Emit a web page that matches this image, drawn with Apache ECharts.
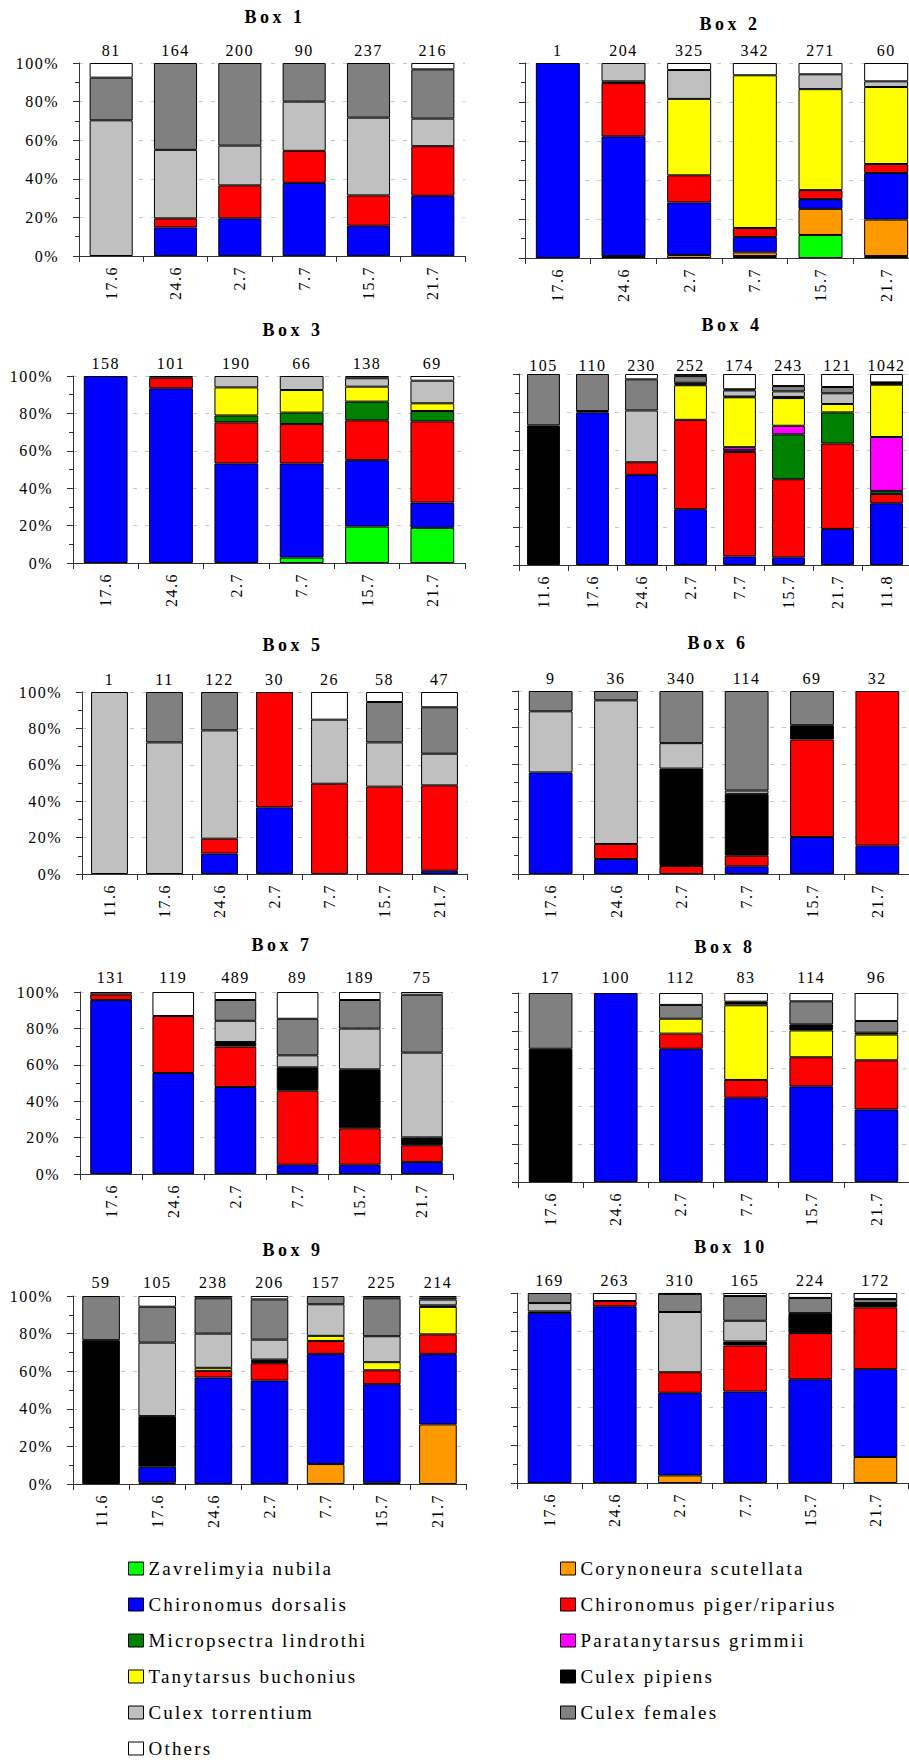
<!DOCTYPE html>
<html>
<head>
<meta charset="utf-8">
<script src="https://cdn.jsdelivr.net/npm/echarts@6/dist/echarts.min.js"></script>
<style>
html,body{margin:0;padding:0;background:#fff;}
#c{width:909px;height:1760px;}
#c svg text{letter-spacing:1.5px;}
#c svg text[style*="bold"]{letter-spacing:3.5px;}
#c svg text[style*="19px"]{letter-spacing:2.2px;}
</style>
</head>
<body>
<div id="c"></div>
<script>
const boxTitles = ['Box 1','Box 2','Box 3','Box 4','Box 5','Box 6','Box 7','Box 8','Box 9','Box 10'];

const boxDates = [
  ['17.6','24.6','2.7','7.7','15.7','21.7'],
  ['17.6','24.6','2.7','7.7','15.7','21.7'],
  ['17.6','24.6','2.7','7.7','15.7','21.7'],
  ['11.6','17.6','24.6','2.7','7.7','15.7','21.7','11.8'],
  ['11.6','17.6','24.6','2.7','7.7','15.7','21.7'],
  ['17.6','24.6','2.7','7.7','15.7','21.7'],
  ['17.6','24.6','2.7','7.7','15.7','21.7'],
  ['17.6','24.6','2.7','7.7','15.7','21.7'],
  ['11.6','17.6','24.6','2.7','7.7','15.7','21.7'],
  ['17.6','24.6','2.7','7.7','15.7','21.7']
];

const boxCounts = [
  [81,164,200,90,237,216],
  [1,204,325,342,271,60],
  [158,101,190,66,138,69],
  [105,110,230,252,174,243,121,1042],
  [1,11,122,30,26,58,47],
  [9,36,340,114,69,32],
  [131,119,489,89,189,75],
  [17,100,112,83,114,96],
  [59,105,238,206,157,225,214],
  [169,263,310,165,224,172]
];

// percentages per box (bottom of stack first species)
const zavrelimyia = [
  [0,0,0,0,0,0],
  [0,0,0,1.0,11.8,1.0],
  [0,0,0,2.9,19.5,18.8],
  [0,0,0,0,0,0,0,0],
  [0,0,0,0,0,0,0],
  [0,0,0,0,0,0],
  [0,0,0,0,0,0],
  [0,0,0,0,0,0],
  [0,0,0,0,0,0,0],
  [0,0,0,0,0,0]
];
const corynoneura = [
  [0,0,0,0,0,0],
  [0,1.0,1.5,1.9,13.4,18.7],
  [0,0,0,0,0,0],
  [0,0,0,0,0,0,0,0],
  [0,0,0,0,0,0,0],
  [0,0,0,0,0,0],
  [0,0,0,0,0,0],
  [0,0,0,0,0,0],
  [0,0.7,0,0,10.6,0.7,31.7],
  [0,0,4.0,0,0,13.7]
];
const dorsalis = [
  [0,14.8,19.5,37.9,15.7,31.2],
  [100,61.4,27.0,7.9,5.0,23.9],
  [100,93.4,53.2,50.3,35.5,13.5],
  [0,79.9,47.2,29.2,4.5,4.0,18.9,32.3],
  [0,0,11.2,36.6,0,0,1.8],
  [55.5,8.2,0,4.2,20.2,15.5],
  [95.6,55.5,47.8,5.1,5.1,6.6],
  [0,100,70.5,44.6,50.6,38.4],
  [0,8.5,56.6,55.0,58.6,52.4,37.5],
  [89.4,93.0,43.5,48.1,54.6,46.2]
];
const piger = [
  [0,4.7,17.1,16.6,15.7,25.7],
  [0,27.3,13.9,4.6,4.6,4.6],
  [0,5.7,22.0,21.1,21.3,43.4],
  [0,0.7,6.6,46.8,54.6,40.9,44.7,4.9],
  [0,0,8.2,63.4,49.6,48.0,46.9],
  [0,8.2,4.4,5.8,53.3,84.5],
  [3.1,31.3,22.2,40.7,20.0,9.2],
  [0,0,8.0,9.4,15.4,26.0],
  [0,0,3.6,9.2,6.9,7.4,10.4],
  [0,2.8,10.8,24.3,24.3,32.5]
];
const micropsectra = [
  [0,0,0,0,0,0],
  [0,0,0,0,0,0],
  [0,0.9,3.7,6.1,10.0,5.6],
  [0,0,0,0,1.0,23.5,16.3,1.6],
  [0,0,0,0,0,0,0],
  [0,0,0,0,0,0],
  [0,0,0,0,0,0],
  [0,0,0,0,0,0],
  [0,0,0,0.6,0,0,0],
  [0,0,0,0,0,0]
];
const paratanytarsus = [
  [0,0,0,0,0,0],
  [0,0,0,0,0,0],
  [0,0,0,0,0,0],
  [0,0,0,0,1.6,4.5,0,28.2],
  [0,0,0,0,0,0,0],
  [0,0,0,0,0,0],
  [0,0,0,0,0,0],
  [0,0,0,0,0,0],
  [0,0,0,0,0,0,0],
  [0,0,0,0,0,0]
];
const tanytarsus = [
  [0,0,0,0,0,0],
  [0,0.9,39.2,78.3,51.8,39.5],
  [0,0,15.0,12.1,8.0,4.1],
  [0,0,0,18.1,26.1,14.5,4.4,27.4],
  [0,0,0,0,0,0,0],
  [0,0,0,0,0,0],
  [0,0,0,0,0,0],
  [0,0,7.9,39.5,14.2,13.6],
  [0,0,1.6,0.7,2.7,4.3,14.6],
  [0,0,0,0,0,0]
];
const pipiens = [
  [0,0,0,0,0,0],
  [0,0,0,0,0,0],
  [0,0,0,0,0,0],
  [73.1,0,0,0.5,0.4,0.6,0,0.6],
  [0,0,0,0,0,0,0],
  [0,0,53.2,33.8,7.8,0],
  [0,0,2.5,12.8,32.4,4.3],
  [70.5,0,0,0,3.2,1.0],
  [76.5,26.9,0,0.7,0,0,0.8],
  [0.9,0,0,2.1,10.5,2.3]
];
const torrentium = [
  [70.3,35.5,20.6,25.5,40.3,14.3],
  [0,9.4,14.8,0,7.6,2.9],
  [0,0,6.1,7.5,4.5,12.1],
  [0,0,27.1,0.8,3.2,2.9,5.6,0.3],
  [100,72.3,59.5,0,35.2,24.3,17.4],
  [33.4,78.5,13.9,1.8,0,0],
  [1.3,0,11.7,6.6,22.4,46.6],
  [0,0,0,1.2,0,0],
  [0,39.1,18.2,10.6,16.8,13.8,3.1],
  [4.4,0,31.7,10.9,0,0]
];
const females = [
  [22.1,45.0,42.8,20.0,28.3,25.5],
  [0,0,0,0,0,0],
  [0,0,0,0,0,0],
  [26.9,19.4,16.3,3.5,0.6,2.8,3.3,0.3],
  [0,27.7,21.1,0,0,22.2,25.5],
  [11.1,5.1,28.5,54.4,18.7,0],
  [0,0,11.4,20.1,15.7,31.8],
  [29.5,0,7.3,0.7,12.2,6.2],
  [23.5,19.1,18.8,21.4,4.4,20.2,1.0],
  [5.3,0,9.5,13.0,8.0,2.1]
];
const others = [
  [7.6,0,0,0,0,3.3],
  [0,0,3.6,6.3,5.8,9.4],
  [0,0,0,0,1.2,2.5],
  [0,0,2.8,1.1,8.0,6.3,6.8,4.4],
  [0,0,0,0,15.2,5.5,8.4],
  [0,0,0,0,0,0],
  [0,13.2,4.4,14.7,4.4,1.5],
  [0,0,6.3,4.6,4.4,14.8],
  [0,5.7,1.2,1.8,0,1.2,0.9],
  [0,4.2,0.5,1.6,2.6,3.2]
];

const species = [
  {name:'Zavrelimyia nubila', color:'#00FF00', values:zavrelimyia},
  {name:'Corynoneura scutellata', color:'#FF9900', values:corynoneura},
  {name:'Chironomus dorsalis', color:'#0000FF', values:dorsalis},
  {name:'Chironomus piger/riparius', color:'#FF0000', values:piger},
  {name:'Micropsectra lindrothi', color:'#008000', values:micropsectra},
  {name:'Paratanytarsus grimmii', color:'#FF00FF', values:paratanytarsus},
  {name:'Tanytarsus buchonius', color:'#FFFF00', values:tanytarsus},
  {name:'Culex pipiens', color:'#000000', values:pipiens},
  {name:'Culex torrentium', color:'#C0C0C0', values:torrentium},
  {name:'Culex females', color:'#808080', values:females},
  {name:'Others', color:'#FFFFFF', values:others}
];

const legendLeft = ['Zavrelimyia nubila','Chironomus dorsalis','Micropsectra lindrothi','Tanytarsus buchonius','Culex torrentium','Others'];
const legendRight = ['Corynoneura scutellata','Chironomus piger/riparius','Paratanytarsus grimmii','Culex pipiens','Culex females'];

// layout (pixels)
const panelLayout = [
  {left:79,  top:63,   width:386, height:193, tx:275, ty:17,   cg:13, labels:true},
  {left:525, top:63,   width:394, height:195, tx:730, ty:24,   cg:13, labels:false},
  {left:73,  top:376,  width:392, height:187, tx:293, ty:330,  cg:13, labels:true},
  {left:519, top:374,  width:392, height:191, tx:732, ty:325,  cg:9,  labels:false},
  {left:82,  top:692,  width:385, height:182, tx:293, ty:645,  cg:13, labels:true},
  {left:518, top:691,  width:392, height:183, tx:718, ty:643,  cg:13, labels:false},
  {left:80,  top:992,  width:373, height:182, tx:282, ty:945,  cg:15, labels:true},
  {left:518, top:993,  width:391, height:189, tx:725, ty:947,  cg:16, labels:false},
  {left:73,  top:1296, width:393, height:188, tx:293, ty:1250, cg:14, labels:true},
  {left:517, top:1293, width:391, height:190, tx:731, ty:1247, cg:13, labels:false}
];

const FONT = "'Liberation Serif', 'Times New Roman', serif";
const AX = '#333';

const grid = [], xAxis = [], yAxis = [], series = [], graphic = [];
panelLayout.forEach((p, b) => {
  grid.push({left:p.left, top:p.top, width:p.width, height:p.height, containLabel:false, outerBoundsMode:'none'});
  xAxis.push({
    type:'category', gridIndex:b, data:boxDates[b], position:'bottom',
    axisLine:{show:true, lineStyle:{color:AX, width:1}},
    axisTick:{show:true, length:6, lineStyle:{color:AX}},
    axisLabel:{interval:0, rotate:90, margin:10, fontSize:16, color:'#000', fontFamily:FONT},
    splitLine:{show:false}
  });
  xAxis.push({
    type:'category', gridIndex:b, data:boxCounts[b].map(String), position:'top',
    axisLine:{show:false}, axisTick:{show:false}, splitLine:{show:false},
    axisLabel:{interval:0, margin:p.cg - 8, fontSize:16, color:'#000', fontFamily:FONT}
  });
  yAxis.push({
    type:'value', gridIndex:b, min:0, max:100, interval:20,
    axisLine:{show:true, lineStyle:{color:AX, width:1}},
    axisTick:{show:true, length:6, lineStyle:{color:AX}},
    minorTick:{show:true, splitNumber:2, length:4, lineStyle:{color:AX}},
    splitLine:{show:true, lineStyle:{color:'#c8c8c8', type:[4,8]}},
    minorSplitLine:{show:false},
    axisLabel:{show:p.labels, formatter:'{value}%', margin:20, fontSize:16, color:'#000', fontFamily:FONT}
  });
  species.forEach(s => {
    series.push({
      type:'bar', name:s.name, xAxisIndex:2*b, yAxisIndex:b, stack:'box'+b,
      barCategoryGap:'33%',
      data:s.values[b].map(v => v > 0 ? v : '-'),
      itemStyle:{color:s.color, borderColor:'#000', borderWidth:1},
      emphasis:{disabled:true}, silent:true
    });
  });
  graphic.push({
    type:'text', x:p.tx, y:p.ty,
    style:{text:boxTitles[b], fill:'#000', fontSize:18, fontWeight:'bold', fontFamily:FONT,
           align:'center', verticalAlign:'middle', textAlign:'center', textVerticalAlign:'middle'}
  });
});

const legendCommon = {
  orient:'vertical', icon:'rect', itemWidth:15, itemHeight:13, itemGap:17,
  padding:0, selectedMode:false,
  itemStyle:{borderColor:'#000', borderWidth:1},
  textStyle:{fontSize:19, color:'#000', fontFamily:FONT, lineHeight:19}
};

const option = {
  animation:false,
  backgroundColor:'#fff',
  grid, xAxis, yAxis, series, graphic,
  legend:[
    Object.assign({left:128, top:1559, data:legendLeft}, legendCommon),
    Object.assign({left:560, top:1559, data:legendRight}, legendCommon)
  ]
};

const chart = echarts.init(document.getElementById('c'), null, {renderer:'svg', width:909, height:1760});
chart.setOption(option);
</script>
</body>
</html>
